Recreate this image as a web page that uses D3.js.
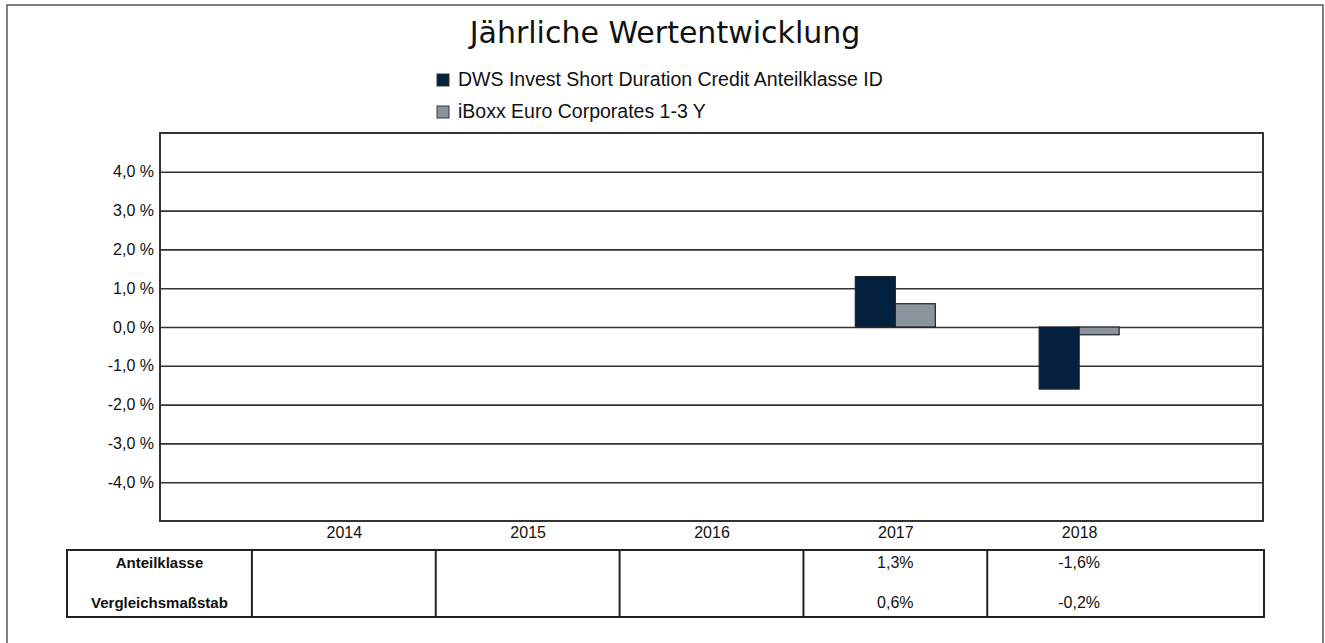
<!DOCTYPE html>
<html>
<head>
<meta charset="utf-8">
<script src="https://cdn.jsdelivr.net/npm/d3@7"></script>
<style>
  body { margin: 0; background: #fff; }
  text { font-family: "Liberation Sans", Arial, sans-serif; fill: #111; }
</style>
</head>
<body>
<div id="chart"></div>
<script>
// Annual performance, fund vs benchmark
const years = ["2014", "2015", "2016", "2017", "2018"];
const fundValues = [null, null, null, 1.3, -1.6];
const benchValues = [null, null, null, 0.6, -0.2];
const seriesNames = ["DWS Invest Short Duration Credit Anteilklasse ID", "iBoxx Euro Corporates 1-3 Y"];
const rowLabels = ["Anteilklasse", "Vergleichsmaßstab"];
const yTicks = [-4, -3, -2, -1, 0, 1, 2, 3, 4];

const colors = ["#03203f", "#8a949d"];
const W = 1325, H = 643;

const svg = d3.select("#chart")
  .append("svg")
  .attr("width", W)
  .attr("height", H);

// outer frame
svg.append("rect")
  .attr("x", 7).attr("y", 5)
  .attr("width", 1316).attr("height", 660)
  .attr("fill", "none")
  .attr("stroke", "#555")
  .attr("stroke-width", 1.5);

// title
svg.append("text")
  .attr("x", 665).attr("y", 43)
  .attr("text-anchor", "middle")
  .style("font-family", "'DejaVu Sans', Verdana, sans-serif")
  .style("font-size", "30px")
  .text("Jährliche Wertentwicklung");

// legend
const legend = svg.selectAll(".legend")
  .data(seriesNames)
  .enter().append("g")
  .attr("transform", (d, i) => `translate(437, ${74 + i * 32})`);

legend.append("rect")
  .attr("width", 12).attr("height", 12)
  .attr("fill", (d, i) => colors[i])
  .attr("stroke", "#333")
  .attr("stroke-width", 1);

legend.append("text")
  .attr("x", 21).attr("y", 12)
  .style("font-size", "19.5px")
  .text(d => d);

// scales
const plot = { left: 160, right: 1263, top: 133, bottom: 521 };

const x = d3.scalePoint()
  .domain(years)
  .range([plot.left, plot.right])
  .padding(1);

const xSub = d3.scaleBand()
  .domain([0, 1])
  .range([-40, 40]);

const y = d3.scaleLinear()
  .domain([-5, 5])
  .range([plot.bottom, plot.top]);

const fmt = v => d3.format(".1f")(v).replace(".", ",").replace("\u2212", "-");

// gridlines + y labels
const yAxis = svg.append("g")
  .attr("transform", `translate(${plot.left},0)`)
  .call(d3.axisLeft(y)
    .tickValues(yTicks)
    .tickSize(-(plot.right - plot.left))
    .tickPadding(6)
    .tickFormat(d => fmt(d) + " %"));

yAxis.select(".domain").remove();
yAxis.selectAll(".tick line")
  .attr("stroke", "#333")
  .attr("stroke-width", 1.6);
yAxis.selectAll(".tick text")
  .style("font-size", "16px")
  .attr("fill", "#111");

// plot frame
svg.append("rect")
  .attr("x", plot.left).attr("y", plot.top)
  .attr("width", plot.right - plot.left)
  .attr("height", plot.bottom - plot.top)
  .attr("fill", "none")
  .attr("stroke", "#333")
  .attr("stroke-width", 2);

// x labels
const xAxis = svg.append("g")
  .attr("transform", `translate(0,${plot.bottom})`)
  .call(d3.axisBottom(x).tickSize(0).tickPadding(6));
xAxis.select(".domain").remove();
xAxis.selectAll(".tick text")
  .style("font-size", "16px")
  .attr("fill", "#111");

// bars
const barData = [];
years.forEach((yr, i) => {
  [fundValues[i], benchValues[i]].forEach((v, s) => {
    if (v !== null) barData.push({ year: yr, s: s, v: v });
  });
});

svg.append("g")
  .selectAll("rect")
  .data(barData)
  .enter().append("rect")
  .attr("x", d => x(d.year) + xSub(d.s))
  .attr("width", xSub.bandwidth())
  .attr("y", d => y(Math.max(0, d.v)))
  .attr("height", d => Math.abs(y(d.v) - y(0)))
  .attr("fill", d => colors[d.s])
  .attr("stroke", "#222")
  .attr("stroke-width", 1.2);

// table under the chart
const table = { left: 67, right: 1264, top: 550, bottom: 617 };
const step = x.step();

const tg = svg.append("g");
tg.append("rect")
  .attr("x", table.left).attr("y", table.top)
  .attr("width", table.right - table.left)
  .attr("height", table.bottom - table.top)
  .attr("fill", "none")
  .attr("stroke", "#222")
  .attr("stroke-width", 2);

tg.selectAll(".divider")
  .data(years)
  .enter().append("line")
  .attr("x1", d => x(d) - step / 2)
  .attr("x2", d => x(d) - step / 2)
  .attr("y1", table.top)
  .attr("y2", table.bottom)
  .attr("stroke", "#222")
  .attr("stroke-width", 2);

const rowY = [568, 608];
const labelX = (table.left + x(years[0]) - step / 2) / 2;

tg.selectAll(".rowlabel")
  .data(rowLabels)
  .enter().append("text")
  .attr("x", labelX)
  .attr("y", (d, i) => rowY[i])
  .attr("text-anchor", "middle")
  .style("font-size", "15px")
  .style("font-weight", "bold")
  .text(d => d);

[fundValues, benchValues].forEach((vals, r) => {
  tg.selectAll(".val" + r)
    .data(years)
    .enter().append("text")
    .attr("x", d => x(d))
    .attr("y", rowY[r])
    .attr("text-anchor", "middle")
    .style("font-size", "16px")
    .text((d, i) => vals[i] === null ? "" : fmt(vals[i]) + "%");
});
</script>
</body>
</html>
